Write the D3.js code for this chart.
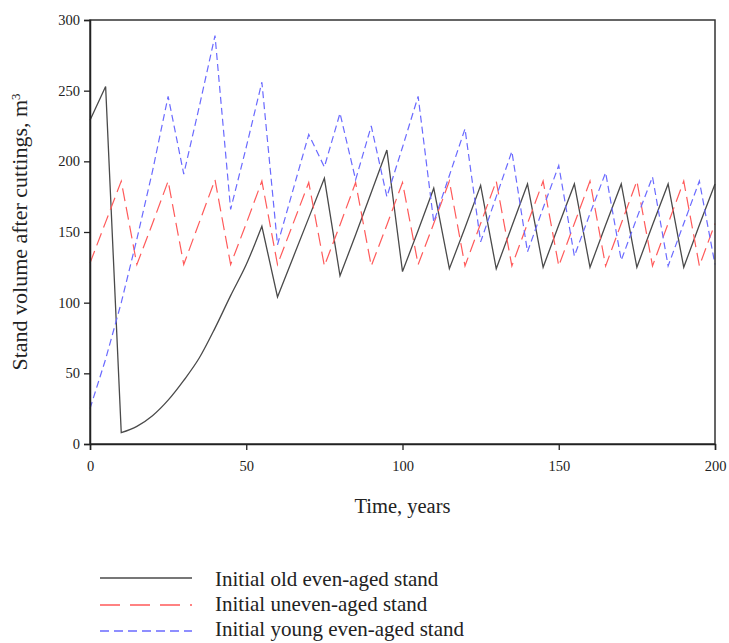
<!DOCTYPE html>
<html><head><meta charset="utf-8">
<script src="https://cdn.jsdelivr.net/npm/d3@7"></script>
<style>
body{margin:0;background:#fff;}
text{font-family:"Liberation Serif","Times New Roman",serif;fill:#222;}
</style></head>
<body><svg id="chart" width="729" height="643"></svg>
<script>
const years = d3.range(0, 201, 5);
const oldEven = [229,253,8,12.5,20,31,45,61,82,105,127,154,104,132,160,188,119,148,178,208,122,151,181,124,153,183,124,154,184,125,155,184,125,155,184,125,155,184,125,155,184];
const uneven = [128,157,186,127,156,186,127,157,187,127,156,186,127,156,185,126,155,185,126,155,185,127,156,186,126,156,186,126,156,186,126,156,186,126,156,186,126,156,186,126,156];
const youngEven = [25,60,100,145,193,246,191,239,289,166,210,256,141,180,219,196,234,187,225,175,210,246,157,190,223,143,175,207,136,167,197,133,163,192,130,160,189,126,156,186,127];
const seriesNames = ["Initial old even-aged stand","Initial uneven-aged stand","Initial young even-aged stand"];
const xTicks = [0,50,100,150,200];
const yTicks = [0,50,100,150,200,250,300];
// growth phase of the old stand after the clear-cut (years 10..55) is a smooth curve
const smoothRange = [10, 55];

const svg = d3.select("#chart");
const m = {l:90, r:715, t:20, b:444};
const x = d3.scaleLinear().domain([0,200]).range([m.l, m.r]);
const y = d3.scaleLinear().domain([0,300]).range([m.b, m.t]);

const styles = [
  {color:"#4a4a4a", dash:null, legDash:null, w:1.3},
  {color:"#ff5a5a", dash:"13,6", legDash:"20,10", w:1.2},
  {color:"#6a6aff", dash:"7,4", legDash:"9,5", w:1.2}
];
const data = [oldEven, uneven, youngEven];

const pts = s => s.map((v,i)=>[years[i], v]);
const lineLin = d3.line().x(d=>x(d[0])).y(d=>y(d[1]));
const lineSmooth = d3.line().x(d=>x(d[0])).y(d=>y(d[1])).curve(d3.curveMonotoneX);

data.forEach((s,k)=>{
  const p = pts(s);
  let dStr;
  if (k === 0) {
    const a = p.filter(d=>d[0] <= smoothRange[0]);
    const b = p.filter(d=>d[0] >= smoothRange[0] && d[0] <= smoothRange[1]);
    const c = p.filter(d=>d[0] >= smoothRange[1]);
    dStr = lineLin(a) + lineSmooth(b).replace(/^M[^C L]*/, m0 => "L" + m0.slice(1)) + lineLin(c).replace(/^M/, "L");
  } else {
    dStr = lineLin(p);
  }
  svg.append("path").attr("d", dStr).attr("fill","none")
    .attr("stroke", styles[k].color).attr("stroke-width", styles[k].w)
    .attr("stroke-linejoin","miter")
    .attr("stroke-dasharray", styles[k].dash);
});

// frame
svg.append("rect").attr("x",m.l).attr("y",m.t).attr("width",m.r-m.l).attr("height",m.b-m.t)
  .attr("fill","none").attr("stroke","#333").attr("stroke-width",1.5);

const xAxis = svg.append("g").attr("transform",`translate(0,${m.b})`)
  .call(d3.axisBottom(x).tickValues(xTicks).tickSize(6).tickPadding(11).tickFormat(d3.format("d")));
const yAxis = svg.append("g").attr("transform",`translate(${m.l},0)`)
  .call(d3.axisLeft(y).tickValues(yTicks).tickSize(6).tickPadding(4).tickFormat(d3.format("d")));
[xAxis,yAxis].forEach(g=>{
  g.select(".domain").attr("stroke","#222").attr("stroke-width",1.5);
  g.selectAll(".tick line").attr("stroke","#222").attr("stroke-width",1.3);
  g.selectAll("text").style("font-family","'Liberation Serif',serif").style("font-size","14.5px").attr("fill","#222");
});

svg.append("text").attr("x",(m.l+m.r)/2).attr("y",513).attr("text-anchor","middle")
  .style("font-size","20.5px").text("Time, years");

const yl = svg.append("text").attr("transform",`translate(27,${(m.t+m.b)/2}) rotate(-90)`)
  .attr("text-anchor","middle").style("font-size","22px");
yl.append("tspan").text("Stand volume after cuttings, m");
yl.append("tspan").attr("baseline-shift","super").style("font-size","13px").text("3");

// legend
const legY = [578,605,631];
const legBase = [585.5,610.5,635.5];
seriesNames.forEach((n,k)=>{
  svg.append("line").attr("x1",100).attr("x2",192).attr("y1",legY[k]).attr("y2",legY[k])
    .attr("stroke",styles[k].color).attr("stroke-width",1.3).attr("stroke-dasharray",styles[k].legDash);
  svg.append("text").attr("x",215).attr("y",legBase[k]).style("font-size","21px").text(n);
});
</script></body></html>
